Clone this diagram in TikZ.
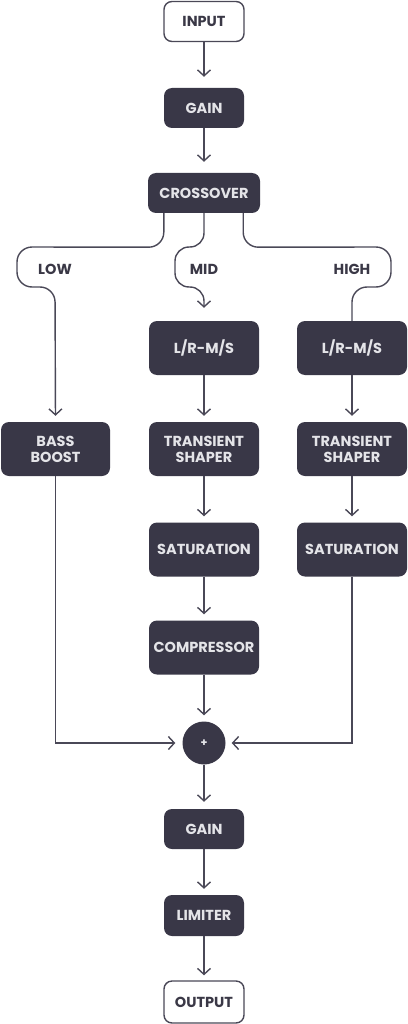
\documentclass[tikz,border=0pt]{standalone}
\usepackage{fontspec}
\setmainfont{Poppins}
\usetikzlibrary{arrows.meta}
\definecolor{boxdark}{HTML}{393747}
\definecolor{linedark}{HTML}{4A4857}
\definecolor{boxtext}{HTML}{E4E4E8}
\definecolor{labeltext}{HTML}{3A3846}
\tikzset{
  darkbox/.style={rectangle, rounded corners=8pt, fill=boxdark, text=boxtext,
    font=\fontsize{14.5}{16}\selectfont\bfseries, align=center, inner sep=0pt,
    minimum width=110pt, minimum height=54pt},
  smallbox/.style={darkbox, minimum width=80pt, minimum height=40pt},
  termbox/.style={rectangle, rounded corners=8pt, draw=linedark, line width=1.4pt, fill=white,
    text=labeltext, font=\fontsize{14.5}{16}\selectfont\bfseries, inner sep=0pt,
    minimum width=80pt, minimum height=40pt},
  sumnode/.style={circle, fill=boxdark, text=boxtext, minimum size=43pt, inner sep=0pt,
    font=\fontsize{11}{12}\selectfont\bfseries},
  bandlabel/.style={text=labeltext, font=\fontsize{14.5}{16}\selectfont\bfseries, inner sep=0pt},
  conn/.style={draw=linedark, line width=1.4pt,
    -{Straight Barb[length=6pt, width=13pt, line width=1.4pt]}},
  plainconn/.style={draw=linedark, line width=1.4pt},
}
\begin{document}
\begin{tikzpicture}[x=1pt, y=-1pt]
\useasboundingbox (0,0) rectangle (407,1024);
% nodes
\node[termbox] (input) at (204,21.5) {INPUT};
\node[smallbox] (gain1) at (204,108) {GAIN};
\node[smallbox, minimum width=112pt] (cross) at (204,193) {CROSSOVER};
\node[bandlabel] (low) at (55,269) {LOW};
\node[bandlabel] (mid) at (204,269) {MID};
\node[bandlabel] (high) at (352,269) {HIGH};
\node[darkbox] (lrm) at (204,348) {L/R-M/S};
\node[darkbox] (lrh) at (352,348) {L/R-M/S};
\node[darkbox, minimum width=109pt] (bass) at (55.5,449) {BASS\\BOOST};
\node[darkbox] (trm) at (204,449) {TRANSIENT\\SHAPER};
\node[darkbox] (trh) at (352,449) {TRANSIENT\\SHAPER};
\node[darkbox] (satm) at (204,549.5) {SATURATION};
\node[darkbox] (sath) at (352,549.5) {SATURATION};
\node[darkbox] (comp) at (204,647.5) {COMPRESSOR};
\node[sumnode] (sum) at (204,743) {+};
\node[smallbox] (gain2) at (204,829) {GAIN};
\node[smallbox, minimum height=41pt] (lim) at (204,915.5) {LIMITER};
\node[termbox, minimum height=42pt] (output) at (204,1002) {OUTPUT};
% connectors
\draw[conn, shorten >=11pt] (input) -- (gain1);
\draw[conn, shorten >=11pt] (gain1) -- (cross);
\draw[conn, shorten >=6pt, rounded corners=15pt]
  ([xshift=16pt]cross.south west) -- ++(0,34) -- (17,247) -- (17,287) -- (55,287) -- (bass.north);
\draw[conn, shorten >=13pt, rounded corners=14pt]
  (cross.south) -- (204,247) -- (175,247) -- (175,287) -- (204,287) -- (lrm.north);
\draw[plainconn, rounded corners=15pt]
  ([xshift=-17pt]cross.south east) -- ++(0,34) -- (391,247) -- (391,287) -- (352,287) -- (lrh.north);
\draw[conn, shorten >=6pt] (lrm) -- (trm);
\draw[conn, shorten >=6pt] (lrh) -- (trh);
\draw[conn, shorten >=6pt] (trm) -- (satm);
\draw[conn, shorten >=6pt] (trh) -- (sath);
\draw[conn, shorten >=6pt] (satm) -- (comp);
\draw[conn, shorten >=6pt] (comp) -- (sum);
\draw[conn, shorten >=7pt] (bass.south) |- (sum.west);
\draw[conn, shorten >=6pt] (sath.south) |- (sum.east);
\draw[conn, shorten >=7pt] (sum) -- (gain2);
\draw[conn, shorten >=6pt] (gain2) -- (lim);
\draw[conn, shorten >=5pt] (lim) -- (output);
\end{tikzpicture}
\end{document}
